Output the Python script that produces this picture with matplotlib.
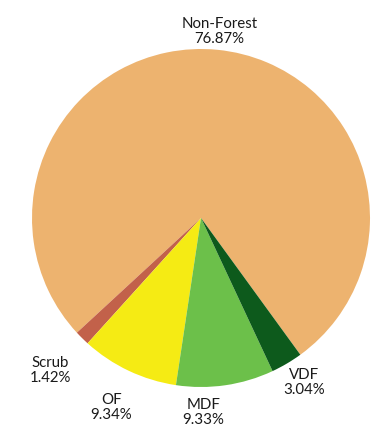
import matplotlib
matplotlib.use("Agg")
import matplotlib.pyplot as plt
import numpy as np

categories = ["Non-Forest", "Scrub", "OF", "MDF", "VDF"]
values = [76.87, 1.42, 9.34, 9.33, 3.04]
colors = ["#EDB36F", "#C2614A", "#F5EB14", "#6CC04A", "#0D5A1C"]

# label placement (style): radial distance and angular tweak in degrees
label_dist = [1.11, 1.27, 1.24, 1.15, 1.15]
label_dang = [0.0, 0.0, 0.0, -7.5, 1.5]

fig = plt.figure(figsize=(3.85, 4.30), dpi=100)
ax = fig.add_axes([0, 0, 1, 1])
wedges, _ = ax.pie(values, colors=colors, startangle=-54, counterclock=True,
                   radius=1.0, center=(0, 0),
                   wedgeprops=dict(linewidth=0))
for w, name, v, d, da in zip(wedges, categories, values, label_dist, label_dang):
    mid = np.deg2rad((w.theta1 + w.theta2) / 2 + da)
    x, y = d * np.cos(mid), d * np.sin(mid)
    ax.text(x, y, f"{name}\n{v:.2f}%", ha="center", va="center",
            fontsize=10.8, family=["Lato", "DejaVu Sans"], color="#1a1a1a",
            linespacing=1.05)
ax.set_xlim(-201 / 169, 184 / 169)
ax.set_ylim(-212 / 169, 218 / 169)
ax.set_aspect("auto")
ax.axis("off")
fig.savefig("out.png", dpi=100)
